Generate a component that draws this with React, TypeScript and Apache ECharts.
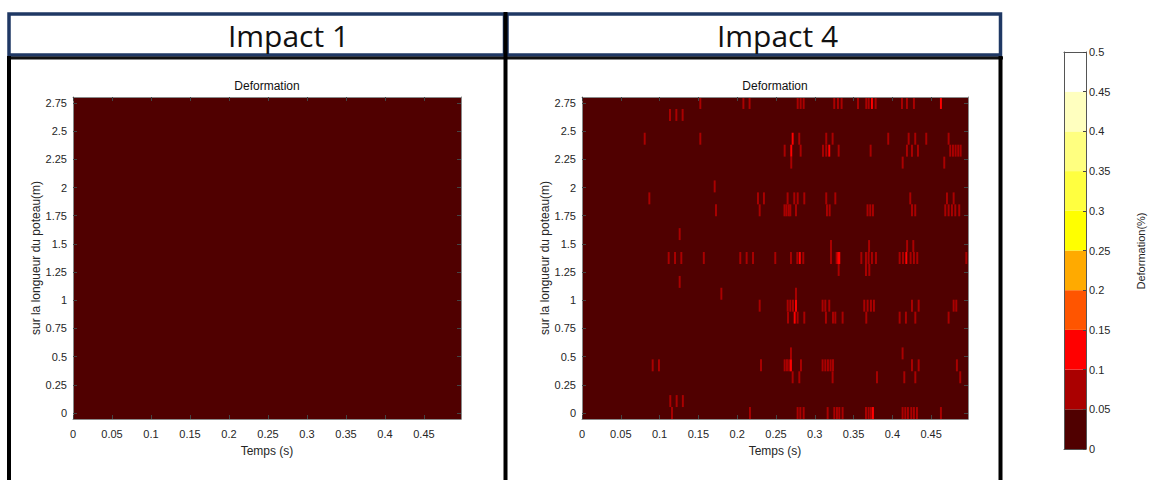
import React, { useEffect, useRef } from "react";
import * as echarts from "echarts";

// ---------- data ----------
const panelTitles = ["Impact 1", "Impact 4"];
const plotTitle = "Deformation";
const timeLabel = "Temps (s)";
const heightLabel = "sur la longueur du poteau(m)";
const levelLabel = "Deformation(%)";

const timeTicks = [0, 0.05, 0.1, 0.15, 0.2, 0.25, 0.3, 0.35, 0.4, 0.45];
const heightTicks = [0, 0.25, 0.5, 0.75, 1, 1.25, 1.5, 1.75, 2, 2.25, 2.5, 2.75];
const levelTicks = [0, 0.05, 0.1, 0.15, 0.2, 0.25, 0.3, 0.35, 0.4, 0.45, 0.5];
const levelColors = ["#500000", "#aa0000", "#ff0000", "#ff5500", "#ffaa00", "#ffff00", "#ffff40", "#ffff80", "#ffffbf", "#ffffff"];

// measuring positions along the pole (m)
const positions = [0, 0.106, 0.212, 0.317, 0.423, 0.529, 0.635, 0.74, 0.846, 0.952, 1.058, 1.163, 1.269, 1.375, 1.481, 1.587, 1.692, 1.798, 1.904, 2.01, 2.115, 2.221, 2.327, 2.433, 2.538, 2.644, 2.75];
const timeStep = 0.0025;
const timeEnd = 0.4975;

// Impact 1: every cell stays in the lowest level (no non-zero cells)
const impact1Weak: [number, number[]][] = [];
const impact1Strong: [number, number[]][] = [];

// Impact 4: cells in the 0.05-0.1 level, per position: [position, times]
const impact4Weak: [number, number[]][] = [
  [2.75, [0.1525, 0.208, 0.216, 0.278, 0.2818, 0.2857, 0.3251, 0.3299, 0.3346, 0.3557, 0.3664, 0.3695, 0.3785, 0.4124, 0.4188, 0.4278]],
  [2.644, [0.1134, 0.1216, 0.1297]],
  [2.433, [0.0808, 0.1525, 0.28, 0.3148, 0.323, 0.3947, 0.421, 0.4295, 0.4437, 0.4725]],
  [2.327, [0.2612, 0.2818, 0.3106, 0.3148, 0.3308, 0.372, 0.4188, 0.4253, 0.433, 0.4746, 0.4781, 0.4815, 0.4849, 0.488]],
  [2.221, [0.2697, 0.4133, 0.4669]],
  [2.01, [0.171]],
  [1.904, [0.0868, 0.2268, 0.2345, 0.265, 0.2736, 0.278, 0.2865, 0.3148, 0.3265, 0.4231, 0.4704, 0.479]],
  [1.798, [0.1727, 0.229, 0.261, 0.2635, 0.2664, 0.2685, 0.2758, 0.3157, 0.3192, 0.368, 0.3715, 0.375, 0.4253, 0.4295, 0.4682, 0.4725, 0.4768, 0.4811, 0.4862]],
  [1.587, [0.1259]],
  [1.481, [0.3209, 0.37, 0.419, 0.427]],
  [1.375, [0.1117, 0.1199, 0.128, 0.157, 0.204, 0.2122, 0.2204, 0.2491, 0.2693, 0.2775, 0.2852, 0.3209, 0.3282, 0.36, 0.366, 0.3694, 0.3737, 0.3789, 0.4094, 0.4137, 0.4235, 0.4278, 0.4321, 0.4953]],
  [1.269, [0.3308, 0.366, 0.3703]],
  [1.163, [0.1259]],
  [1.058, [0.1796, 0.2758]],
  [0.952, [0.229, 0.2651, 0.2685, 0.2719, 0.3101, 0.3136, 0.3187, 0.3638, 0.3681, 0.3724, 0.3763, 0.4253, 0.4339, 0.479, 0.4824]],
  [0.846, [0.2655, 0.2779, 0.2865, 0.3144, 0.3235, 0.3265, 0.3359, 0.3664, 0.4094, 0.4175, 0.4296, 0.4725]],
  [0.529, [0.2693, 0.4132]],
  [0.423, [0.0911, 0.0992, 0.2307, 0.2612, 0.2642, 0.2672, 0.2822, 0.3101, 0.3136, 0.317, 0.3204, 0.3235, 0.4253, 0.4339, 0.4832]],
  [0.317, [0.2715, 0.2801, 0.323, 0.3802, 0.4154, 0.4296, 0.4875]],
  [0.106, [0.1138, 0.122, 0.13]],
  [0, [0.116, 0.2165, 0.2779, 0.2814, 0.2857, 0.3166, 0.3252, 0.3286, 0.3316, 0.3359, 0.366, 0.3694, 0.3724, 0.4132, 0.4167, 0.4201, 0.4244, 0.4278, 0.4317, 0.4626]],
];
// Impact 4: cells in the 0.1-0.15 level
const impact4Strong: [number, number[]][] = [
  [2.75, [0.3737, 0.4626]],
  [2.433, [0.2715]],
  [2.327, [0.2697, 0.3187]],
  [1.375, [0.2807, 0.3303, 0.3316, 0.418]],
  [0.952, [0.2758]],
  [0.846, [0.2741]],
  [0.423, [0.2693]],
  [0, [0.375]],
];
const weakValue = 0.07;
const strongValue = 0.12;

// ---------- helpers ----------
const cellH = positions[1] - positions[0];
const posMin = positions[0] - cellH / 2;
const posMax = positions[positions.length - 1] + cellH / 2;
const FONT = "Liberation Sans, Arial, sans-serif";
const frameColor = "#8a8a8a";
const tickColor = "#444";
const labelColor = "#262626";

const colorFor = (v: number) => levelColors[Math.max(0, Math.min(levelColors.length - 1, Math.floor(v / 0.05 + 1e-9)))];
const fmt = (v: number) => String(parseFloat(Number(v).toFixed(3)));

function buildCells(weak: [number, number[]][], strong: [number, number[]][]) {
  const out: number[][] = [];
  weak.forEach(([y, ts]) => ts.forEach((t) => out.push([t, y, weakValue])));
  strong.forEach(([y, ts]) => ts.forEach((t) => out.push([t, y, strongValue])));
  return out;
}

function timeAxis(gridIndex: number, position: string, labels: boolean) {
  return {
    type: "value", gridIndex, position, min: 0, max: timeEnd, z: 10,
    axisLine: { show: true, onZero: false, lineStyle: { color: frameColor, width: 1 } },
    axisTick: { show: true, inside: true, length: 4, customValues: timeTicks, lineStyle: { color: tickColor } },
    axisLabel: { show: labels, customValues: timeTicks, formatter: fmt, fontSize: 11, color: labelColor, margin: 9, fontFamily: FONT },
    splitLine: { show: false },
    name: labels ? timeLabel : "", nameLocation: "middle", nameGap: 26,
    nameTextStyle: { fontSize: 12, color: labelColor, fontFamily: FONT },
  };
}
function heightAxis(gridIndex: number, position: string, labels: boolean) {
  return {
    type: "value", gridIndex, position, min: posMin, max: posMax, z: 10,
    axisLine: { show: true, onZero: false, lineStyle: { color: frameColor, width: 1 } },
    axisTick: { show: true, inside: true, length: 4, customValues: heightTicks, lineStyle: { color: tickColor } },
    axisLabel: { show: labels, customValues: heightTicks, formatter: fmt, fontSize: 11, color: labelColor, margin: 6, fontFamily: FONT },
    splitLine: { show: false },
    name: labels ? heightLabel : "", nameLocation: "middle", nameGap: 31, nameRotate: 90,
    nameTextStyle: { fontSize: 12, color: labelColor, fontFamily: FONT },
  };
}

const backgroundItem = (params: any, api: any) => {
  const a = api.coord([api.value(0), api.value(3)]);
  const b = api.coord([api.value(1), api.value(2)]);
  return { type: "rect", shape: { x: a[0], y: a[1], width: b[0] - a[0], height: b[1] - a[1] }, style: { fill: colorFor(api.value(4)) } };
};
const cellItem = (params: any, api: any) => {
  const t = api.value(0), y = api.value(1), v = api.value(2);
  const a = api.coord([t - timeStep / 2, y + cellH / 2]);
  const b = api.coord([t + timeStep / 2, y - cellH / 2]);
  return { type: "rect", shape: { x: a[0], y: a[1], width: b[0] - a[0], height: b[1] - a[1] }, style: { fill: colorFor(v) } };
};
const bandItem = (params: any, api: any) => {
  const a = api.coord([0, api.value(1)]);
  const b = api.coord([1, api.value(0)]);
  return { type: "rect", shape: { x: a[0], y: a[1], width: b[0] - a[0], height: b[1] - a[1] }, style: { fill: colorFor(api.value(0)) } };
};

export default function App() {
  const ref = useRef<HTMLDivElement>(null);
  useEffect(() => {
    if (!ref.current) return;
    const chart = echarts.init(ref.current, null, { renderer: "svg" });
    const grids = [
      { left: 73, top: 97, width: 388, height: 322 },
      { left: 582, top: 97, width: 386, height: 322 },
      { left: 1064, top: 52, width: 22, height: 397 },
    ];
    const bands = levelTicks.slice(0, -1).map((lo, i) => [lo, levelTicks[i + 1]]);
    const bg = [[0, timeEnd, posMin, posMax, 0]];
    const panels = [buildCells(impact1Weak, impact1Strong), buildCells(impact4Weak, impact4Strong)];

    const series: any[] = [];
    panels.forEach((cells, i) => {
      series.push({ type: "custom", xAxisIndex: i * 2, yAxisIndex: i * 2, data: bg, renderItem: backgroundItem, clip: true, silent: true, z: 1 });
      series.push({ type: "custom", xAxisIndex: i * 2, yAxisIndex: i * 2, data: cells, renderItem: cellItem, clip: true, silent: true, z: 2, encode: { x: 0, y: 1 } });
    });
    series.push({ type: "custom", xAxisIndex: 4, yAxisIndex: 4, data: bands, renderItem: bandItem, silent: true, z: 1, encode: { y: [0, 1] } });

    const headerBoxes = [
      { x: 9, w: 497, cx: 288.5 },
      { x: 507, w: 495, cx: 777.5 },
    ];
    const graphic: any[] = [];
    headerBoxes.forEach((h, i) => {
      graphic.push({ type: "rect", shape: { x: h.x, y: 14, width: h.w - 1.5, height: 41 }, style: { fill: "#fff", stroke: "#1f3864", lineWidth: 3.5 } });
      graphic.push({ type: "text", x: h.cx, y: 35, style: { text: panelTitles[i], fontSize: 30, fontFamily: "Open Sans, sans-serif", fill: "#111", align: "center", verticalAlign: "middle" } });
      const g = grids[i];
      graphic.push({ type: "text", x: g.left + g.width / 2, y: 86, style: { text: plotTitle, fontSize: 12, fontFamily: FONT, fill: "#111", align: "center", verticalAlign: "middle" } });
    });
    graphic.push({ type: "line", shape: { x1: 7, y1: 58, x2: 1003, y2: 58 }, style: { stroke: "#111", lineWidth: 3 } });
    graphic.push({ type: "line", shape: { x1: 9, y1: 56, x2: 9, y2: 480 }, style: { stroke: "#000", lineWidth: 4 } });
    graphic.push({ type: "line", shape: { x1: 505.5, y1: 12, x2: 505.5, y2: 480 }, style: { stroke: "#000", lineWidth: 4 } });
    graphic.push({ type: "line", shape: { x1: 1000.5, y1: 56, x2: 1000.5, y2: 480 }, style: { stroke: "#000", lineWidth: 4 } });
    graphic.push({ type: "text", x: 1141, y: 251, rotation: Math.PI / 2, style: { text: levelLabel, fontSize: 11, fontFamily: FONT, fill: labelColor, align: "center", verticalAlign: "middle" } });

    const barX = (pos: string) => ({
      type: "value", gridIndex: 2, position: pos, min: 0, max: 1, z: 10,
      axisLine: { show: true, onZero: false, lineStyle: { color: "#555", width: 1 } },
      axisTick: { show: false }, axisLabel: { show: false }, splitLine: { show: false },
    });
    const barY = (pos: string, labels: boolean) => ({
      type: "value", gridIndex: 2, position: pos, min: 0, max: 0.5, interval: 0.05, z: 10,
      axisLine: { show: true, onZero: false, lineStyle: { color: "#555", width: 1 } },
      axisTick: { show: labels, inside: true, length: 3, lineStyle: { color: tickColor } },
      axisLabel: { show: labels, formatter: fmt, fontSize: 11, color: labelColor, margin: 3, fontFamily: FONT },
      splitLine: { show: false },
    });

    chart.setOption({
      animation: false,
      backgroundColor: "#fff",
      grid: grids,
      xAxis: [timeAxis(0, "bottom", true), timeAxis(0, "top", false), timeAxis(1, "bottom", true), timeAxis(1, "top", false), barX("bottom"), barX("top")],
      yAxis: [heightAxis(0, "left", true), heightAxis(0, "right", false), heightAxis(1, "left", true), heightAxis(1, "right", false), barY("left", false), barY("right", true)],
      series,
      graphic,
    });
    return () => chart.dispose();
  }, []);
  return <div ref={ref} style={{ position: "absolute", left: 0, top: 0, width: 1153, height: 480 }} />;
}
